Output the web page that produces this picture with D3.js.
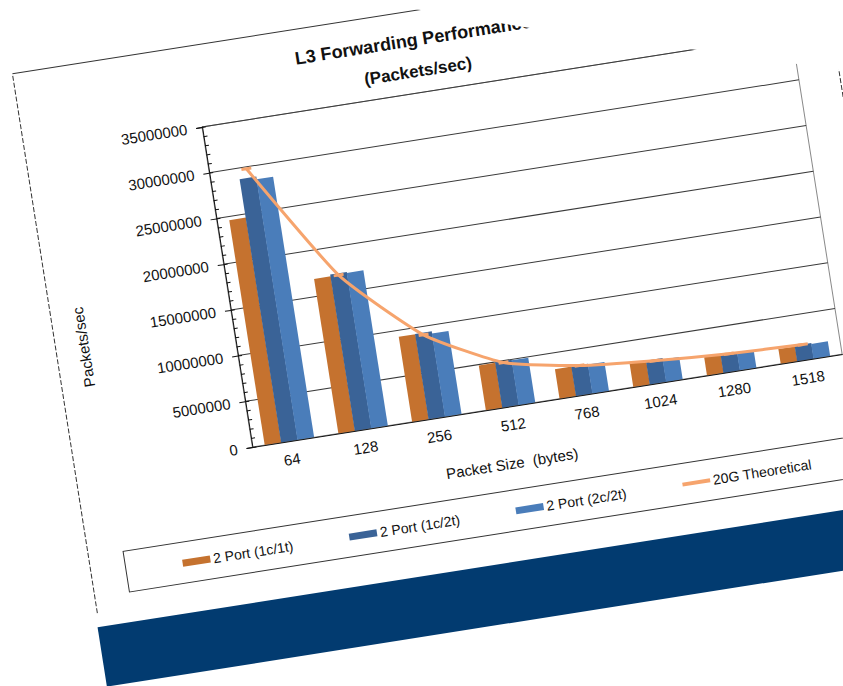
<!DOCTYPE html>
<html>
<head>
<meta charset="utf-8">
<script src="https://cdnjs.cloudflare.com/ajax/libs/d3/7.8.5/d3.min.js"></script>
<style>
  html, body { margin: 0; padding: 0; background: #fff; }
  svg { display: block; font-family: Arial, "Liberation Sans", sans-serif; }
</style>
</head>
<body>
<div id="chart"></div>
<script>
// data (packets/sec)
const sizes = ['64', '128', '256', '512', '768', '1024', '1280', '1518'];
const port1c1t = [24600000, 16900000, 9300000, 4900000, 3220000, 2620000, 1980000, 1620000];
const port1c2t = [28800000, 17100000, 9340000, 4970000, 3240000, 2600000, 2000000, 1700000];
const port2c2t = [28500000, 17000000, 9100000, 4900000, 3170000, 2450000, 1850000, 1620000];
const theoretical = [29800000, 16900000, 9100000, 4800000, 3200000, 2450000, 1950000, 1700000];
const yTicks = [0, 5000000, 10000000, 15000000, 20000000, 25000000, 30000000, 35000000];

const barSeries = [
  { name: '2 Port (1c/1t)', values: port1c1t, color: '#C5722F' },
  { name: '2 Port (1c/2t)', values: port1c2t, color: '#3A6397' },
  { name: '2 Port (2c/2t)', values: port2c2t, color: '#4A7DBA' }
];
const lineName = '20G Theoretical';
const lineColor = '#F6A46D';

const W = 843;
const H = 686;
// plot size in slide units, the slide itself is tilted in the photo
const plotW = 597;
const plotH = 324;
const tilt = -8.95;

const svg = d3.select('#chart').append('svg')
  .attr('width', W)
  .attr('height', H);

const $slide = svg.append('g')
  .attr('transform', `translate(202,127) rotate(${tilt})`);

// scales
const x = d3.scaleBand().domain(sizes).range([0, plotW]);
const y = d3.scaleLinear().domain([0, 35000000]).range([plotH, 0]);
const barW = x.bandwidth() / 4.5;

// footer band of the slide
$slide.append('rect')
  .attr('x', -181).attr('y', 478)
  .attr('width', 1100).attr('height', 60)
  .attr('fill', '#023B70');

// chart area border
$slide.append('path')
  .attr('d', 'M-179,464 L-179,-82')
  .attr('stroke', '#333')
  .attr('stroke-dasharray', '5,2');
$slide.append('path')
  .attr('d', 'M-179,-82 L638,-82')
  .attr('stroke', '#333');
$slide.append('path')
  .attr('d', 'M638,-82 L638,464')
  .attr('stroke', '#333')
  .attr('stroke-dasharray', '5,2');

// title
const $title = $slide.append('text')
  .attr('text-anchor', 'middle')
  .attr('font-weight', 'bold')
  .attr('font-size', 18)
  .attr('fill', '#111');
$title.append('tspan').attr('x', 222).attr('y', -47).text('L3 Forwarding Performance');
$title.append('tspan').attr('x', 222).attr('y', -16).attr('font-size', 17).text('(Packets/sec)');

// plot area border + gridlines
$slide.append('rect')
  .attr('width', plotW).attr('height', plotH)
  .attr('fill', 'none')
  .attr('stroke', '#8a8a8a');

$slide.append('g')
  .selectAll('line')
  .data(yTicks.filter(d => d > 0))
  .enter()
  .append('line')
  .attr('x1', 0).attr('x2', plotW)
  .attr('y1', d => y(d)).attr('y2', d => y(d))
  .attr('stroke', '#3a3a3a');

// bars
const $bars = $slide.append('g');
barSeries.forEach((s, i) => {
  $bars.selectAll(`.bar-${i}`)
    .data(s.values)
    .enter()
    .append('rect')
    .attr('class', `bar-${i}`)
    .attr('x', (d, j) => x(sizes[j]) + barW * (0.75 + i))
    .attr('y', d => y(d))
    .attr('width', barW + 0.3)
    .attr('height', d => plotH - y(d))
    .attr('fill', s.color);
});

// theoretical line
const line = d3.line()
  .x((d, j) => x(sizes[j]) + x.bandwidth() / 2)
  .y(d => y(d))
  .curve(d3.curveCardinal.tension(0.5));

$slide.append('path')
  .datum(theoretical)
  .attr('d', line)
  .attr('fill', 'none')
  .attr('stroke', lineColor)
  .attr('stroke-width', 3);

$slide.append('g')
  .selectAll('rect')
  .data(theoretical)
  .enter()
  .append('rect')
  .attr('x', (d, j) => x(sizes[j]) + x.bandwidth() / 2 - 5)
  .attr('y', d => y(d) - 1.5)
  .attr('width', 10).attr('height', 3)
  .attr('fill', lineColor);

// axes
const $yAxis = $slide.append('g')
  .call(d3.axisLeft(y).tickValues(yTicks).tickSize(6).tickPadding(9).tickFormat(d3.format('d')));
$yAxis.select('.domain').attr('stroke', '#111');
$yAxis.selectAll('line').attr('stroke', '#111');
$yAxis.selectAll('text').attr('font-size', 15).attr('fill', '#111');

const $yMinor = $slide.append('g')
  .call(d3.axisRight(y).tickValues(d3.range(0, 35000001, 1000000)).tickSize(4).tickFormat(''));
$yMinor.select('.domain').remove();
$yMinor.selectAll('line').attr('stroke', '#111');

const $xAxis = $slide.append('g')
  .attr('transform', `translate(0,${plotH})`)
  .call(d3.axisBottom(x).tickSize(0).tickPadding(13));
$xAxis.select('.domain').attr('stroke', '#111');
$xAxis.selectAll('text').attr('font-size', 15).attr('fill', '#111');

// axis titles
$slide.append('text')
  .attr('x', 254).attr('y', 386)
  .attr('text-anchor', 'middle')
  .attr('font-size', 15)
  .attr('fill', '#111')
  .attr('xml:space', 'preserve')
  .text('Packet Size  (bytes)');

$slide.append('text')
  .attr('transform', 'translate(-151,199) rotate(-90)')
  .attr('text-anchor', 'middle')
  .attr('dy', '0.35em')
  .attr('font-size', 15)
  .attr('fill', '#111')
  .text('Packets/sec');

// legend
$slide.append('rect')
  .attr('x', -144).attr('y', 407)
  .attr('width', 747).attr('height', 41)
  .attr('fill', 'none')
  .attr('stroke', '#333');

const legendItems = barSeries.map(s => ({ name: s.name, color: s.color, type: 'bar' }))
  .concat([{ name: lineName, color: lineColor, type: 'line' }]);
const legendX = d3.scalePoint().domain(legendItems.map(d => d.name)).range([-56, 450]);

const $items = $slide.append('g')
  .selectAll('g')
  .data(legendItems)
  .enter()
  .append('g')
  .attr('transform', d => `translate(${legendX(d.name)},428)`);

$items.filter(d => d.type === 'bar')
  .append('rect')
  .attr('x', -31).attr('y', -3.5)
  .attr('width', 28).attr('height', 7)
  .attr('fill', d => d.color);

$items.filter(d => d.type === 'line')
  .append('line')
  .attr('x1', -31).attr('x2', -3)
  .attr('stroke', d => d.color)
  .attr('stroke-width', 4);

$items.append('text')
  .attr('dy', '0.35em')
  .attr('font-size', 14)
  .attr('fill', '#111')
  .text(d => d.name);

// white sheet covering the top right corner of the photo
svg.append('polygon')
  .attr('points', `360,0 ${W},0 ${W},70.5 690,49 530,28`)
  .attr('fill', '#fff');
</script>
</body>
</html>
